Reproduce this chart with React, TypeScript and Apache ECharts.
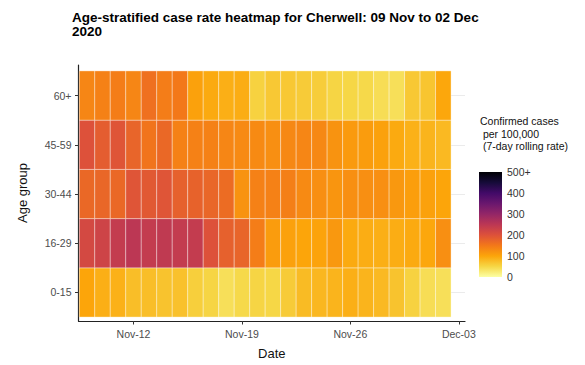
import React, { useEffect, useRef } from "react";
import * as echarts from "echarts";

const ageGroups = ["0-15", "16-29", "30-44", "45-59", "60+"];
const dates = [
  "Nov-09", "Nov-10", "Nov-11", "Nov-12", "Nov-13", "Nov-14", "Nov-15", "Nov-16",
  "Nov-17", "Nov-18", "Nov-19", "Nov-20", "Nov-21", "Nov-22", "Nov-23", "Nov-24",
  "Nov-25", "Nov-26", "Nov-27", "Nov-28", "Nov-29", "Nov-30", "Dec-01", "Dec-02",
];
const tickDays = [3, 10, 17, 24];
const tickLabels = ["Nov-12", "Nov-19", "Nov-26", "Dec-03"];

const rate0_15 = [100, 90, 88, 75, 75, 70, 72, 58, 52, 40, 48, 52, 50, 62, 78, 82, 85, 90, 85, 80, 70, 55, 42, 40];
const rate16_29 = [215, 225, 240, 250, 240, 245, 240, 240, 200, 180, 175, 145, 110, 105, 100, 102, 115, 95, 92, 90, 92, 95, 98, 125];
const rate30_44 = [170, 172, 170, 195, 190, 195, 180, 178, 172, 165, 120, 140, 140, 142, 130, 125, 118, 125, 125, 125, 115, 108, 105, 100];
const rate45_59 = [200, 185, 195, 175, 155, 170, 140, 140, 140, 135, 130, 130, 125, 132, 135, 132, 120, 112, 110, 105, 95, 88, 85, 80];
const rate60plus = [135, 140, 145, 135, 160, 145, 150, 105, 95, 90, 92, 55, 65, 65, 62, 60, 52, 50, 48, 42, 40, 65, 68, 98];
const rows = [rate0_15, rate16_29, rate30_44, rate45_59, rate60plus];

const legendBreaks = [0, 100, 200, 300, 400, 500];
const inferno = [
  "#000004", "#160B39", "#420A68", "#6A176E", "#932667", "#BC3754",
  "#DD513A", "#F37819", "#FCA50A", "#F6D746", "#FCFFA4",
];

const FONT = "Liberation Sans, Arial, sans-serif";

export default function App() {
  const ref = useRef<HTMLDivElement>(null);
  useEffect(() => {
    if (!ref.current) return;
    const chart = echarts.init(ref.current, null, { renderer: "svg" });
    const data: any[] = [];
    rows.forEach((vals, r) => vals.forEach((v, d) => data.push({ name: `${dates[d]} ${ageGroups[r]}`, value: [d, r, v] })));
    const colorsLowToHigh = inferno.slice().reverse();

    chart.setOption({
      animation: false,
      textStyle: { fontFamily: FONT },
      title: [
        {
          text: "Age-stratified case rate heatmap for Cherwell: 09 Nov to 02 Dec\n2020",
          left: 67,
          top: 5,
          textStyle: { fontFamily: FONT, fontSize: 13.5, fontWeight: "bold", color: "#000", lineHeight: 14 },
        },
        {
          text: "Confirmed cases\n per 100,000\n (7-day rolling rate)",
          left: 475,
          top: 110,
          textStyle: { fontFamily: FONT, fontSize: 10.5, fontWeight: "normal", color: "#111", lineHeight: 12.5 },
        },
      ],
      visualMap: {
        show: false,
        type: "continuous",
        seriesIndex: 0,
        dimension: 2,
        min: 0,
        max: 500,
        inRange: { color: colorsLowToHigh },
      },
      grid: [
        { left: 78.5, right: 120, top: 65, bottom: 41 },
        { left: 479, width: 23, top: 172, height: 105 },
      ],
      xAxis: [
        {
          type: "value",
          gridIndex: 0,
          min: -0.55,
          max: 24.4,
          name: "Date",
          nameLocation: "middle",
          nameGap: 26,
          nameTextStyle: { fontFamily: FONT, fontSize: 13, color: "#111" },
          axisLine: { show: true, onZero: false, lineStyle: { color: "#222", width: 1.2 } },
          axisTick: { show: true, length: 3.5, customValues: tickDays, lineStyle: { color: "#333" } },
          axisLabel: {
            customValues: tickDays,
            margin: 7,
            fontSize: 10.5,
            color: "#4D4D4D",
            formatter: (v: number) => tickLabels[tickDays.indexOf(Math.round(v))] ?? "",
          },
          splitLine: { show: false },
        },
        {
          type: "category",
          gridIndex: 1,
          data: ["bar"],
          show: false,
        },
      ],
      yAxis: [
        {
          type: "value",
          gridIndex: 0,
          min: -0.58,
          max: 4.62,
          name: "Age group",
          nameLocation: "middle",
          nameGap: 50,
          nameTextStyle: { fontFamily: FONT, fontSize: 13, color: "#111" },
          axisLine: { show: true, onZero: false, lineStyle: { color: "#222", width: 1.2 } },
          axisTick: { show: true, length: 3.5, customValues: [0, 1, 2, 3, 4], lineStyle: { color: "#333" } },
          axisLabel: {
            customValues: [0, 1, 2, 3, 4],
            margin: 7,
            fontSize: 10.5,
            color: "#4D4D4D",
            formatter: (v: number) => ageGroups[Math.round(v)] ?? "",
          },
          splitLine: { show: true, lineStyle: { color: "#EBEBEB", width: 1 } },
        },
        {
          type: "value",
          gridIndex: 1,
          position: "right",
          min: 0,
          max: 500,
          interval: 100,
          axisLine: { show: false },
          axisTick: { show: true, inside: true, length: 4, lineStyle: { color: "rgba(255,255,255,0.8)" } },
          axisLabel: {
            margin: 5,
            fontSize: 10.5,
            color: "#333",
            formatter: (v: number) => (v === legendBreaks[legendBreaks.length - 1] ? `${v}+` : String(v)),
          },
          splitLine: { show: false },
        },
        {
          type: "value",
          gridIndex: 1,
          position: "left",
          min: 0,
          max: 500,
          interval: 100,
          axisLine: { show: false },
          axisTick: { show: true, inside: true, length: 4, lineStyle: { color: "rgba(255,255,255,0.8)" } },
          axisLabel: { show: false },
          splitLine: { show: false },
        },
      ],
      series: [
        {
          type: "custom",
          xAxisIndex: 0,
          yAxisIndex: 0,
          data,
          encode: { x: 0, y: 1 },
          renderItem: (params: any, api: any) => {
            const x = api.value(0);
            const y = api.value(1);
            const p0 = api.coord([x - 0.5, y + 0.5]);
            const p1 = api.coord([x + 0.5, y - 0.5]);
            return {
              type: "rect",
              shape: { x: p0[0], y: p0[1], width: p1[0] - p0[0], height: p1[1] - p0[1] },
              style: { fill: api.visual("color"), stroke: "rgba(255,255,255,0.35)", lineWidth: 1 },
            };
          },
          z: 2,
        },
        {
          type: "bar",
          xAxisIndex: 1,
          yAxisIndex: 1,
          data: [legendBreaks[legendBreaks.length - 1]],
          barWidth: "100%",
          silent: true,
          z: 1,
          itemStyle: {
            color: new echarts.graphic.LinearGradient(
              0, 0, 0, 1,
              inferno.map((c, i) => ({ offset: i / (inferno.length - 1), color: c }))
            ),
          },
        },
      ],
    });
    return () => chart.dispose();
  }, []);
  return (
    <div
      ref={ref}
      style={{ position: "fixed", left: 0, top: 0, width: 585, height: 365, background: "#fff" }}
    />
  );
}
